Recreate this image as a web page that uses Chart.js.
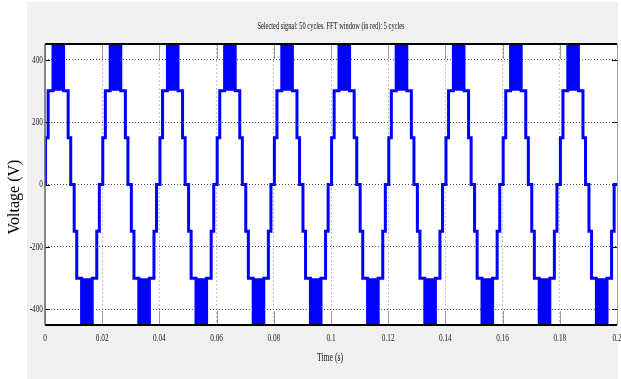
<!DOCTYPE html>
<html>
<head>
<meta charset="utf-8">
<script src="https://cdn.jsdelivr.net/npm/chart.js@4.4.0/dist/chart.umd.min.js"></script>
<style>
  html, body { margin: 0; padding: 0; background: #fff; }
  canvas { display: block; }
</style>
</head>
<body>
<canvas id="voltChart" width="621" height="379"></canvas>
<script>
// half cycles of the 50 Hz output: start time (s) and polarity
const halfCycleStarts = [0, 0.01, 0.02, 0.03, 0.04, 0.05, 0.06, 0.07, 0.08, 0.09,
                         0.1, 0.11, 0.12, 0.13, 0.14, 0.15, 0.16, 0.17, 0.18, 0.19]
const halfCycleSigns = [1, -1, 1, -1, 1, -1, 1, -1, 1, -1,
                        1, -1, 1, -1, 1, -1, 1, -1, 1, -1]

// switching instants inside one half cycle (s) and the level (V) reached at each
const switchTimes = [0.0002, 0.0011, 0.0028, 0.0065, 0.0081, 0.0090]
const switchLevels = [150, 300, 450, 300, 150, 0]

// PWM chopping between the two top levels
const pwmWindow = [0.0028, 0.0065]
const pwmLevels = [300, 450]

const timeTicks = [0, 0.02, 0.04, 0.06, 0.08, 0.1, 0.12, 0.14, 0.16, 0.18, 0.2]
const timeTickLabels = ['0', '0.02', '0.04', '0.06', '0.08', '0.1', '0.12', '0.14', '0.16', '0.18', '0.2']
const voltTicks = [-400, -200, 0, 200, 400]
const voltTickLabels = ['-400', '-200', '0', '200', '400']

const BLUE = '#0000ff'

// staircase output
const stairs = [{ x: 0, y: 0 }]
halfCycleStarts.forEach((start, i) => {
    const sign = halfCycleSigns[i]
    switchTimes.forEach((t, j) => stairs.push({ x: start + t, y: sign * switchLevels[j] }))
})
stairs.push({ x: 0.2, y: 0 })

// solid PWM blocks, one line per polarity filled back to the 300 V level
const pwmBlocks = (sign) => {
    const pts = [{ x: 0, y: sign * pwmLevels[0] }]
    halfCycleStarts.forEach((start, i) => {
        if (halfCycleSigns[i] !== sign) return
        const a = start + pwmWindow[0]
        const b = start + pwmWindow[1]
        pts.push({ x: a, y: sign * pwmLevels[0] }, { x: a, y: sign * pwmLevels[1] },
                 { x: b, y: sign * pwmLevels[1] }, { x: b, y: sign * pwmLevels[0] })
    })
    pts.push({ x: 0.2, y: sign * pwmLevels[0] })
    return pts
}

const squish = (ctx, text, x, y, align, font, sx) => {
    ctx.save()
    ctx.font = font
    ctx.textAlign = align
    ctx.textBaseline = 'middle'
    ctx.translate(x, y)
    ctx.scale(sx, 1)
    ctx.fillText(text, 0, 0)
    ctx.restore()
}

const framePlugin = {
    id: 'frame',
    beforeDraw(chart) {
        const { ctx, chartArea: a } = chart
        ctx.save()
        ctx.fillStyle = '#fff'
        ctx.fillRect(0, 0, chart.width, chart.height)
        ctx.fillStyle = '#f0f0f0'
        ctx.fillRect(27, 2, 591, 377)
        ctx.fillStyle = '#fff'
        ctx.fillRect(a.left, a.top, a.right - a.left, a.bottom - a.top)
        ctx.restore()
    },
    afterDraw(chart) {
        const { ctx, chartArea: a } = chart
        const xs = chart.scales.x
        const ys = chart.scales.y
        ctx.save()

        // x tick marks, top and bottom
        ctx.strokeStyle = '#9a9a9a'
        ctx.lineWidth = 1
        timeTicks.forEach(v => {
            const px = Math.round(xs.getPixelForValue(v)) + 0.5
            ctx.beginPath()
            ctx.moveTo(px, a.top); ctx.lineTo(px, a.top + 15)
            ctx.moveTo(px, a.bottom - 14); ctx.lineTo(px, a.bottom)
            ctx.stroke()
        })
        // y tick marks, left and right
        ctx.strokeStyle = '#000'
        voltTicks.forEach(v => {
            const py = Math.round(ys.getPixelForValue(v)) + 0.5
            ctx.beginPath()
            ctx.moveTo(a.left, py); ctx.lineTo(a.left + 5, py)
            ctx.moveTo(a.right - 5, py); ctx.lineTo(a.right, py)
            ctx.stroke()
        })

        // axes box
        ctx.strokeStyle = '#000'
        ctx.lineWidth = 2
        ctx.beginPath()
        ctx.moveTo(a.left, a.top); ctx.lineTo(a.right, a.top)
        ctx.moveTo(a.left, a.bottom); ctx.lineTo(a.right, a.bottom)
        ctx.stroke()
        ctx.lineWidth = 1.5
        ctx.strokeStyle = '#666'
        ctx.beginPath()
        ctx.moveTo(a.left, a.top); ctx.lineTo(a.left, a.bottom)
        ctx.stroke()
        ctx.lineWidth = 1
        ctx.strokeStyle = '#a0a0a0'
        ctx.beginPath()
        ctx.moveTo(a.right + 0.5, a.top); ctx.lineTo(a.right + 0.5, a.bottom)
        ctx.stroke()

        // tick labels
        ctx.fillStyle = '#222'
        const tickFont = "11px 'Liberation Serif'"
        timeTicks.forEach((v, i) => {
            squish(ctx, timeTickLabels[i], xs.getPixelForValue(v), a.bottom + 13, 'center', tickFont, 0.66)
        })
        voltTicks.forEach((v, i) => {
            squish(ctx, voltTickLabels[i], a.left - 2, ys.getPixelForValue(v), 'right', tickFont, 0.66)
        })

        // titles
        ctx.fillStyle = '#111'
        squish(ctx, 'Selected signal: 50 cycles. FFT window (in red): 5 cycles',
               (a.left + a.right) / 2, 26, 'center', "10px 'Liberation Serif'", 0.64)
        squish(ctx, 'Time (s)', (a.left + a.right) / 2 - 1, a.bottom + 33, 'center', "12px 'Liberation Serif'", 0.64)

        ctx.fillStyle = '#000'
        ctx.font = "16px 'Liberation Serif'"
        ctx.textAlign = 'center'
        ctx.textBaseline = 'middle'
        ctx.translate(14.5, 197)
        ctx.rotate(-Math.PI / 2)
        ctx.fillText('Voltage (V)', 0, 0)
        ctx.restore()
    }
}

new Chart(document.getElementById('voltChart'), {
    type: 'line',
    data: {
        datasets: [
            {
                data: stairs,
                borderColor: BLUE,
                borderWidth: 3,
                stepped: true,
                pointRadius: 0,
                fill: false,
                clip: 0
            },
            {
                data: pwmBlocks(1),
                borderColor: 'transparent',
                backgroundColor: BLUE,
                pointRadius: 0,
                fill: { value: pwmLevels[0] },
                clip: 0
            },
            {
                data: pwmBlocks(-1),
                borderColor: 'transparent',
                backgroundColor: BLUE,
                pointRadius: 0,
                fill: { value: -pwmLevels[0] },
                clip: 0
            }
        ]
    },
    options: {
        responsive: false,
        animation: false,
        devicePixelRatio: 1,
        layout: { padding: { left: 45, right: 4, top: 44, bottom: 54 } },
        plugins: { legend: { display: false }, tooltip: { enabled: false }, title: { display: false } },
        scales: {
            x: {
                type: 'linear',
                min: 0,
                max: 0.2,
                afterBuildTicks: s => { s.ticks = timeTicks.map(v => ({ value: v })) },
                afterFit: s => { s.height = 0 },
                ticks: { display: false },
                grid: { color: '#c4c4c4', drawTicks: false },
                border: { display: false, dash: [2, 2] }
            },
            y: {
                min: -450,
                max: 450,
                afterBuildTicks: s => { s.ticks = voltTicks.map(v => ({ value: v })) },
                afterFit: s => { s.width = 0 },
                ticks: { display: false },
                grid: { color: '#555', drawTicks: false },
                border: { display: false, dash: [1, 2] }
            }
        }
    },
    plugins: [framePlugin]
})
</script>
</body>
</html>
